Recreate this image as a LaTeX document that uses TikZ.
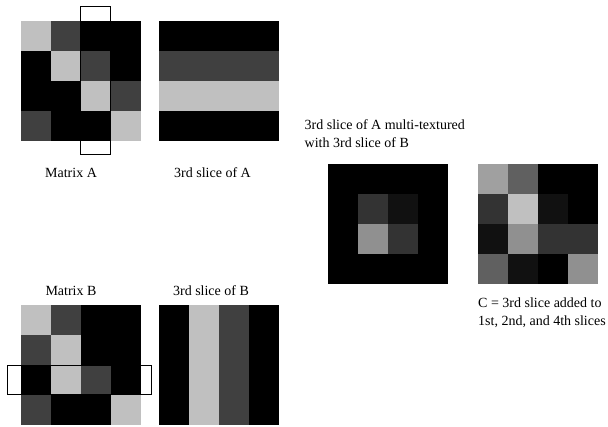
\documentclass[tikz,border=0pt]{standalone}
\usepackage{fontspec}
\setmainfont{Liberation Serif}
\usepackage{tikz}
\usepackage{xcolor}
\definecolor{Tex_Black}{HTML}{000000}
\definecolor{Tex_Faint}{HTML}{111111}
\definecolor{Tex_Dim}{HTML}{333333}
\definecolor{Tex_Dark}{HTML}{404040}
\definecolor{Tex_Mid}{HTML}{606060}
\definecolor{Tex_Gray}{HTML}{909090}
\definecolor{Tex_Silver}{HTML}{A0A0A0}
\definecolor{Tex_Light}{HTML}{C0C0C0}

% 4x4 grid of 30pt cells, top left corner at (#1,#2), rows given top to bottom
\newcommand{\pixgrid}[3]{%
  \foreach \row [count=\r from 0] in {#3} {
    \foreach \shade [count=\k from 0] in \row {
      \fill[Tex_\shade] (#1+30*\k, #2+30*\r) rectangle ++(30,30);
    }
  }%
}

\begin{document}
\begin{tikzpicture}[x=1pt, y=-1pt,
    lab/.style={font=\fontsize{14}{18}\selectfont, inner sep=0pt},
    frame/.style={draw=black, line width=1pt},
    grid/.style={minimum size=120pt, inner sep=0pt}]
    \useasboundingbox (0,0) rectangle (608,426);

    % Matrix A and its 3rd slice
    \node[grid] (matA) at (81,81) {};
    \pixgrid{21}{21}{{Light,Dark,Black,Black},{Black,Light,Dark,Black},{Black,Black,Light,Dark},{Dark,Black,Black,Light}}
    \draw[frame] (80.5,6) rectangle (110.5,154);
    \node[lab] (labA) at (71,173) {Matrix A};

    \node[grid] (sliceA) at (219,81) {};
    \pixgrid{159}{21}{{Black,Black,Black,Black},{Dark,Dark,Dark,Dark},{Light,Light,Light,Light},{Black,Black,Black,Black}}
    \node[lab] (labsA) at (212.5,173) {3rd slice of A};

    % Matrix B and its 3rd slice
    \node[grid] (matB) at (81,365) {};
    \pixgrid{21}{305}{{Light,Dark,Black,Black},{Dark,Light,Black,Black},{Black,Light,Dark,Black},{Dark,Black,Black,Light}}
    \draw[frame] (7,365) rectangle (151,394.5);
    \node[lab] (labB) at (71,291) {Matrix B};

    \node[grid] (sliceB) at (219,365) {};
    \pixgrid{159}{305}{{Black,Light,Dark,Black},{Black,Light,Dark,Black},{Black,Light,Dark,Black},{Black,Light,Dark,Black}}
    \node[lab] (labsB) at (211,291) {3rd slice of B};

    % Product of the two slices
    \node[lab, anchor=west, align=left] (labP) at (304.5,134) {3rd slice of A multi-textured\\with 3rd slice of B};
    \node[grid] (prodAB) at (388,224) {};
    \pixgrid{328}{164}{{Black,Black,Black,Black},{Black,Dim,Faint,Black},{Black,Gray,Dim,Black},{Black,Black,Black,Black}}

    % Result C
    \node[grid] (matC) at (538,224) {};
    \pixgrid{478}{164}{{Silver,Mid,Black,Black},{Dim,Light,Faint,Black},{Faint,Gray,Dim,Dim},{Mid,Faint,Black,Gray}}
    \node[lab, anchor=west, align=left] (labC) at (478,313) {C = 3rd slice added to\\1st, 2nd, and 4th slices};
\end{tikzpicture}
\end{document}
